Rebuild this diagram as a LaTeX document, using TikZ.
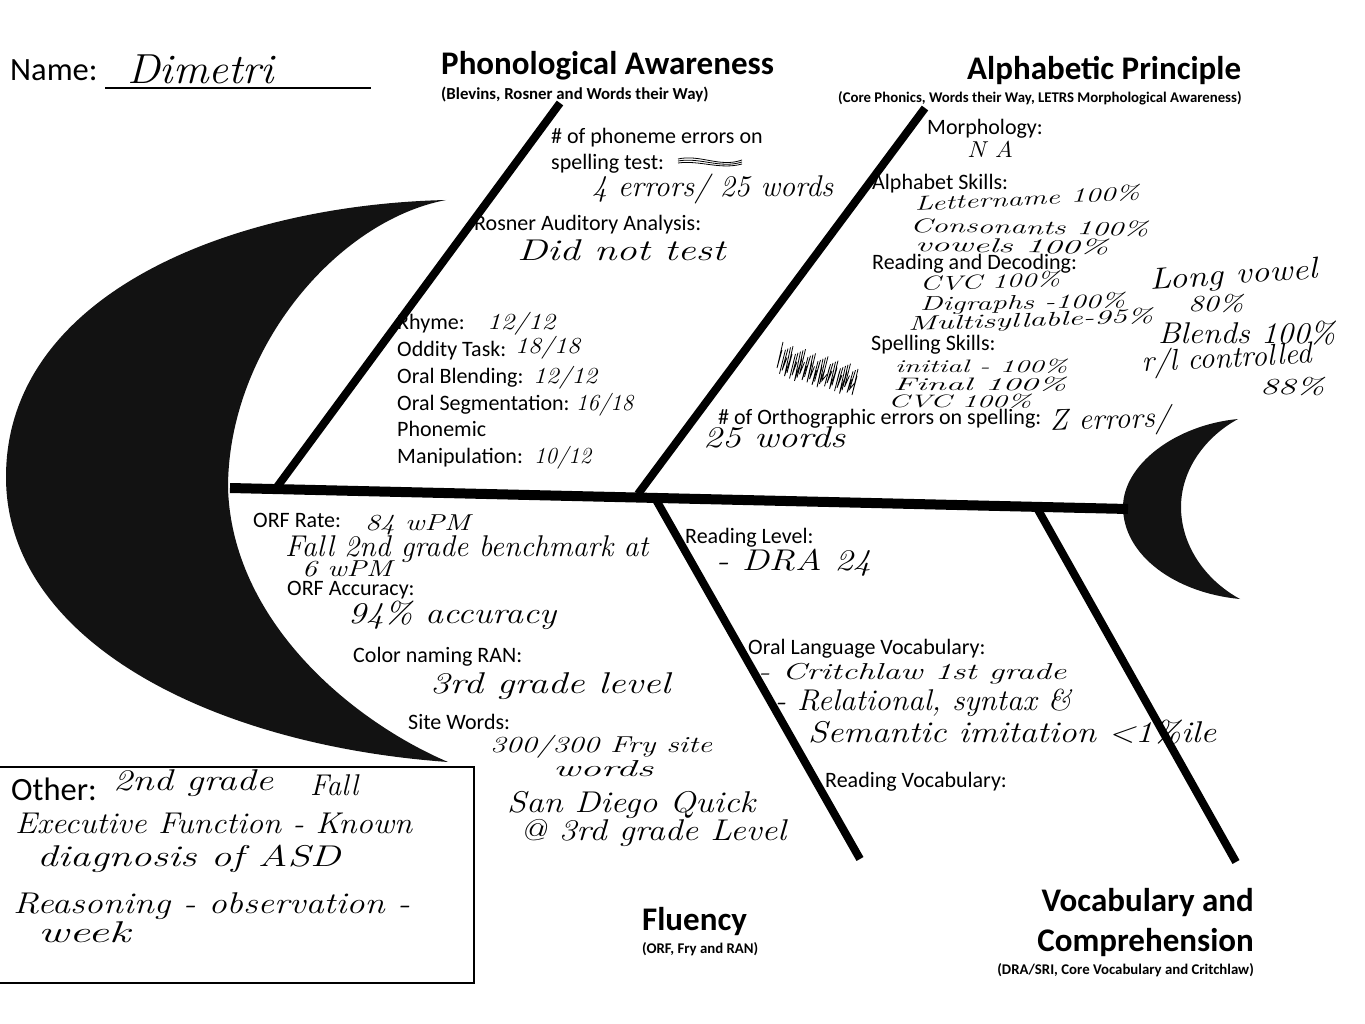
\documentclass[tikz,border=0pt]{standalone}
\usepackage{graphicx}
\usepackage{fontspec}
\setmainfont{Carlito}
\newfontfamily\handfont{Latin Modern Roman}
\newcommand{\hw}[2]{\resizebox{#1pt}{\height}{\handfont\itshape #2}}
\tikzset{
  typed/.style={anchor=base west, inner sep=0pt, font=\fontsize{22}{25}\selectfont},
  bigtyped/.style={anchor=base west, inner sep=0pt, font=\fontsize{32.5}{36}\selectfont},
  written/.style={anchor=base west, inner sep=0pt, font=\fontsize{30}{33}\selectfont},
  smallwritten/.style={anchor=base west, inner sep=0pt, font=\fontsize{23}{25}\selectfont},
  tinywritten/.style={anchor=base west, inner sep=0pt, font=\fontsize{20}{22}\selectfont},
  headline/.style={anchor=base west, inner sep=0pt, font=\bfseries\fontsize{33}{37}\selectfont},
  subline/.style={anchor=base west, inner sep=0pt, font=\bfseries\fontsize{14.8}{17}\selectfont},
  bone/.style={line width=8pt},
  scribble/.style={line width=0.8pt}
}
\begin{document}
\begin{tikzpicture}[x=1pt,y=-1pt]
\useasboundingbox (0,0) rectangle (1365,1024);
% head and tail
\fill[black!93] (446,200) .. controls (230,205) and (6,295) .. (6,477) .. controls (6,640) and (210,745) .. (448,762) .. controls (350,720) and (232,620) .. (228,488) .. controls (228,350) and (336,221) .. (446,200);
\fill[black!93] (1238,419) .. controls (1175,425) and (1123,465) .. (1123,507) .. controls (1123,555) and (1175,593) .. (1240,599) .. controls (1205,580) and (1181,545) .. (1181,507) .. controls (1181,470) and (1205,437) .. (1238,419);
% spine and bones
\coordinate (spineL) at (230,488);
\coordinate (spineR) at (1128,509);
\coordinate (phonoA) at (277,487);
\coordinate (phonoB) at (560,103);
\coordinate (alphaA) at (638,494);
\coordinate (alphaB) at (925,108);
\coordinate (fluA) at (655,498);
\coordinate (fluB) at (860,859);
\coordinate (vocA) at (1037,508);
\coordinate (vocB) at (1236,862);
\draw[line width=10pt] (spineL) -- (spineR);
\draw[bone] (phonoA) -- (phonoB);
\draw[bone] (alphaA) -- (alphaB);
\draw[bone] (fluA) -- (fluB);
\draw[bone] (vocA) -- (vocB);
% name
\coordinate (lineL) at (105,88);
\coordinate (lineR) at (371,88);
\draw[line width=1.5pt] (lineL) -- (lineR);
\node[bigtyped] (name) at (10,81) {Name:};
\node[written, font=\fontsize{42}{44}\selectfont] (dimetri) at (127,84) {\hw{147}{Dimetri}};
% headings
\node[headline] (phonoH) at (441,75) {Phonological Awareness};
\node[subline, font=\bfseries\fontsize{16.8}{19}\selectfont] (phonoS) at (441,100) {(Blevins, Rosner and Words their Way)};
\node[headline] (alphaH) at (967,80) {Alphabetic Principle};
\node[subline] (alphaS) at (838,103) {(Core Phonics, Words their Way, LETRS Morphological Awareness)};
\node[headline] (fluH) at (642,930) {Fluency};
\node[subline] (fluS) at (642,953) {(ORF, Fry and RAN)};
\node[headline, anchor=base east] (vocH) at (1254,911) {Vocabulary and};
\node[headline, anchor=base east] (vocH2) at (1254,951) {Comprehension};
\node[subline, anchor=base east] (vocS) at (1254,974) {(DRA/SRI, Core Vocabulary  and Critchlaw)};
% phonological awareness
\node[typed] (errA) at (551,144) {\# of phoneme errors on};
\node[typed] (errB) at (551,170) {spelling test:};
\foreach \k in {0,1,2}
  \draw[scribble] ({678},{159+\k*2}) .. controls (700,{154+\k*3}) and (720,{168+\k}) .. ({742},{160+\k*2});
\node[written] (errC) at (592,197) {\hw{241}{4 errors/ 25 words}};
\node[typed] (rosner) at (474,231) {Rosner Auditory Analysis:};
\node[written] (rosnerV) at (517,261) {\hw{208}{Did not test}};
\node[typed] (rhyme) at (397,329) {Rhyme:};
\node[smallwritten] (rhymeV) at (487,329) {\hw{68}{12/12}};
\node[typed] (oddity) at (397,356) {Oddity Task:};
\node[smallwritten] (oddityV) at (515,353) {\hw{65}{18/18}};
\node[typed] (blend) at (397,383) {Oral Blending:};
\node[smallwritten] (blendV) at (533,383) {\hw{64}{12/12}};
\node[typed] (segm) at (397,410) {Oral Segmentation:};
\node[smallwritten] (segmV) at (576,410) {\hw{57}{16/18}};
\node[typed] (phonemic) at (397,436) {Phonemic};
\node[typed] (manip) at (397,463) {Manipulation:};
\node[smallwritten] (manipV) at (534,463) {\hw{57}{10/12}};
% alphabetic principle
\node[typed] (morph) at (927,135) {Morphology:};
\node[smallwritten] (morphV) at (967,158) {\hw{46}{N A}};
\node[typed] (skills) at (872,190) {Alphabet Skills:};
\node[tinywritten, rotate=3] (letter) at (915,211) {\hw{225}{Lettername 100\%}};
\node[tinywritten, rotate=-1] (conso) at (910,232) {\hw{238}{Consonants 100\%}};
\node[tinywritten, rotate=-1] (vowel) at (915,251) {\hw{193}{vowels  100\%}};
\node[typed] (decod) at (872,270) {Reading and Decoding:};
\node[tinywritten, rotate=2] (cvc) at (920,291) {\hw{140}{CVC 100\%}};
\node[tinywritten, rotate=1] (digraph) at (920,311) {\hw{205}{Digraphs -100\%}};
\node[tinywritten, rotate=2] (multi) at (908,331) {\hw{245}{Multisyllable-95\%}};
\node[written, rotate=4] (longv) at (1150,290) {\hw{168}{Long vowel}};
\node[smallwritten] (longvV) at (1188,312) {\hw{55}{80\%}};
\node[written] (blends) at (1158,343) {\hw{177}{Blends 100\%}};
\node[written, rotate=3] (rl) at (1142,372) {\hw{170}{r/l controlled}};
\node[smallwritten] (rlV) at (1260,394) {\hw{64}{88\%}};
\node[typed] (spell) at (871,350) {Spelling Skills:};
\foreach \k in {0,...,30}
  \draw[scribble] ({783+2.5*\k},{342+mod(\k*7,9)+\k*0.8}) -- ({777+2.5*\k},{368+mod(\k*5,9)+\k*0.7}) -- ({782+2.5*\k},{350+mod(\k*3,11)+\k*0.8});
\node[tinywritten, font=\fontsize{18}{20}\selectfont] (initial) at (895,372) {\hw{172}{initial - 100\%}};
\node[tinywritten, font=\fontsize{18}{20}\selectfont] (final) at (893,390) {\hw{173}{Final    100\%}};
\node[tinywritten, font=\fontsize{18}{20}\selectfont] (cvcB) at (888,407) {\hw{143}{CVC   100\%}};
\node[typed] (ortho) at (718,424) {\# of Orthographic errors on spelling:};
\node[written, rotate=2] (orthoV) at (1050,431) {\hw{120}{Z errors/}};
\node[written] (orthoW) at (703,447) {\hw{142}{25 words}};
% fluency
\node[typed] (orf) at (253,527) {ORF Rate:};
\node[smallwritten] (orfV) at (365,530) {\hw{105}{84 wPM}};
\node[written] (orfB) at (285,556) {\hw{363}{Fall 2nd grade benchmark at}};
\node[smallwritten] (orfC) at (302,576) {\hw{90}{6 wPM}};
\node[typed] (acc) at (287,595) {ORF Accuracy:};
\node[written] (accV) at (348,623) {\hw{208}{94\% accuracy}};
\node[typed] (ran) at (353,662) {Color naming RAN:};
\node[written] (ranV) at (430,693) {\hw{240}{3rd grade level}};
\node[typed] (site) at (408,729) {Site Words:};
\node[smallwritten] (siteV) at (490,752) {\hw{222}{300/300 Fry site}};
\node[smallwritten] (siteW) at (553,776) {\hw{100}{words}};
\node[written] (sanD) at (507,812) {\hw{248}{San Diego Quick}};
\node[written] (sanE) at (520,840) {\hw{266}{@ 3rd grade Level}};
% vocabulary and comprehension
\node[typed] (level) at (685,543) {Reading Level:};
\node[written] (levelV) at (716,570) {\hw{155}{- DRA  24}};
\node[typed] (oral) at (748,654) {Oral Language Vocabulary:};
\node[smallwritten] (critch) at (758,679) {\hw{308}{- Critchlaw  1st grade}};
\node[written] (relat) at (775,710) {\hw{296}{- Relational, syntax \&}};
\node[written] (seman) at (808,742) {\hw{408}{Semantic  imitation <1\%ile}};
\node[typed] (readV) at (825,787) {Reading Vocabulary:};
% other box
\coordinate (boxA) at (-5,767);
\coordinate (boxB) at (474,983);
\draw[line width=1.5pt] (boxA) rectangle (boxB);
\node[bigtyped] (other) at (11,800) {Other:};
\node[written] (grade) at (113,790) {\hw{160}{2nd grade}};
\node[written] (fall) at (310,795) {\hw{48}{Fall}};
\node[written] (exec) at (15,833) {\hw{397}{Executive Function - Known}};
\node[written] (diag) at (37,866) {\hw{303}{diagnosis of  ASD}};
\node[written] (reas) at (13,913) {\hw{397}{Reasoning - observation -}};
\node[written] (week) at (38,942) {\hw{92}{week}};
\end{tikzpicture}
\end{document}
